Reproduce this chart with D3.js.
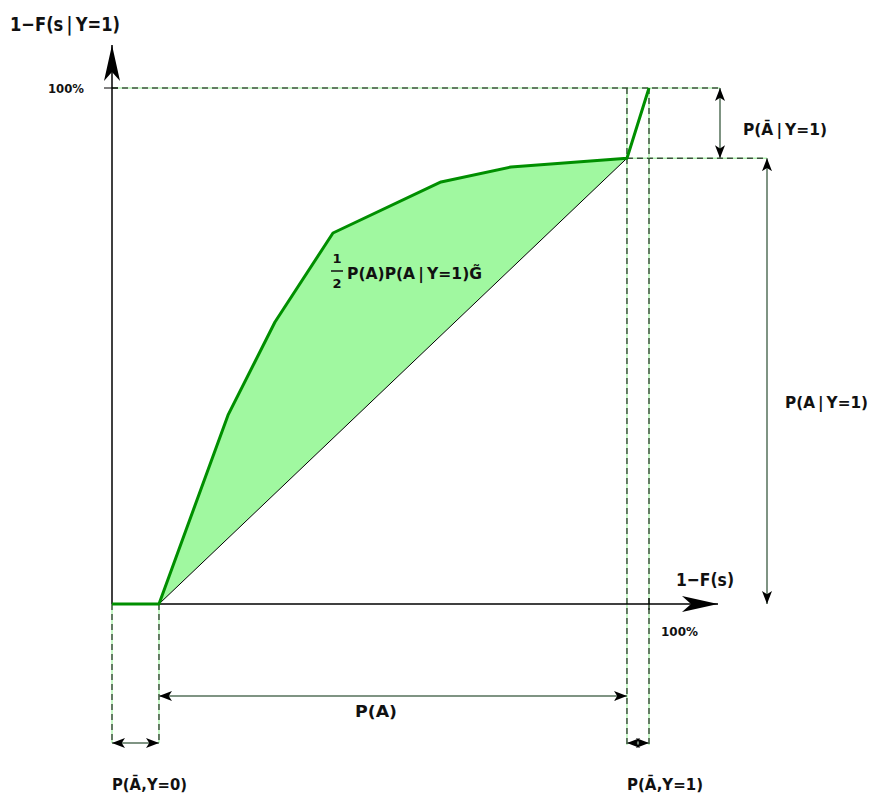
<!DOCTYPE html>
<html>
<head>
<meta charset="utf-8">
<script src="https://cdn.jsdelivr.net/npm/d3@7/dist/d3.min.js"></script>
<style>
  html, body { margin: 0; padding: 0; background: #fff; }
  svg text { font-family: "DejaVu Sans", "Lato", sans-serif; font-weight: 700; fill: #111; }
</style>
</head>
<body>
<svg id="chart" width="872" height="801"></svg>
<script>
// Concentration curve: share of positives vs. share of population above score s
const curveX = [0, 0.0875, 0.216, 0.3035, 0.4115, 0.6127, 0.743, 0.959, 1];
const curveY = [0, 0, 0.366, 0.5465, 0.719, 0.818, 0.847, 0.864, 1];

// Break points of the segment structure
const pNotA_Y0 = 0.0875;   // P(Ā, Y=0)
const pA_end = 0.959;      // P(Ā, Y=0) + P(A)
const pA_Y1 = 0.864;       // P(A | Y=1)

const yTicks = [1];
const xTicks = [1];
const tickLabels = ["100%"];

const svg = d3.select("#chart");
const x = d3.scaleLinear().domain([0, 1]).range([112, 649]);
const y = d3.scaleLinear().domain([0, 1]).range([604, 88]);

const pts = curveX.map((v, i) => [v, curveY[i]]);
const GREEN = "#008f00";
const ANN = "#55705a";

// arrowhead markers
const defs = svg.append("defs");
function marker(id, w, h) {
  defs.append("marker").attr("id", id)
    .attr("viewBox", `0 -${h} ${w} ${2*h}`).attr("refX", w).attr("refY", 0)
    .attr("markerWidth", w).attr("markerHeight", 2*h)
    .attr("markerUnits", "userSpaceOnUse").attr("orient", "auto-start-reverse")
    .append("path").attr("d", `M0,-${h}L${w},0L0,${h}L${w*0.25},0Z`).attr("fill", "#000");
}
marker("ah", 13, 5);
marker("axh", 36, 8);

// text helper with a fixed drawn width
function txt(tx, ty, s, size, width, anchor) {
  const t = svg.append("text").attr("x", tx).attr("y", ty)
    .attr("font-size", size).attr("text-anchor", anchor || "start").text(s);
  if (width) t.attr("textLength", width).attr("lengthAdjust", "spacingAndGlyphs");
  return t;
}

// filled region between curve and chord
const inner = pts.filter(p => p[0] >= pNotA_Y0 && p[0] <= pA_end);
svg.append("path")
  .attr("d", d3.line().x(d => x(d[0])).y(d => y(d[1]))(inner) + "Z")
  .attr("fill", "#a0f8a0").attr("stroke", "none");

// chord
svg.append("line")
  .attr("x1", x(pNotA_Y0)).attr("y1", y(0))
  .attr("x2", x(pA_end)).attr("y2", y(pA_Y1))
  .attr("stroke", "#000").attr("stroke-width", 1);

// dashed guides: light green base with black dashes
function guide(x1, y1, x2, y2) {
  svg.append("line").attr("x1", x1).attr("y1", y1).attr("x2", x2).attr("y2", y2)
    .attr("stroke", "#90f090").attr("stroke-width", 1);
  svg.append("line").attr("x1", x1).attr("y1", y1).attr("x2", x2).attr("y2", y2)
    .attr("stroke", "#000").attr("stroke-width", 1).attr("stroke-dasharray", "6,4");
}
guide(x(0), y(1), 720, y(1));
guide(x(pA_end), y(pA_Y1), 767, y(pA_Y1));
guide(x(pA_end), y(1), x(pA_end), 745);
guide(x(1), y(1), x(1), 745);
guide(x(0), y(0), x(0), 743);
guide(x(pNotA_Y0), y(0), x(pNotA_Y0), 743);

// axes
svg.append("line").attr("x1", x(0)).attr("y1", y(0)).attr("x2", 718).attr("y2", y(0))
  .attr("stroke", "#000").attr("stroke-width", 1.5).attr("marker-end", "url(#axh)");
svg.append("line").attr("x1", x(0)).attr("y1", y(0)).attr("x2", x(0)).attr("y2", 45)
  .attr("stroke", "#000").attr("stroke-width", 1.5).attr("marker-end", "url(#axh)");

// ticks
yTicks.forEach((t, i) => {
  svg.append("line").attr("x1", x(0) - 8).attr("x2", x(0) + 6).attr("y1", y(t)).attr("y2", y(t))
    .attr("stroke", "#000").attr("stroke-width", 1);
  txt(84, y(t) + 5, tickLabels[i], 13, 36, "end");
});
xTicks.forEach((t, i) => {
  svg.append("line").attr("x1", x(t)).attr("x2", x(t)).attr("y1", y(0) - 6).attr("y2", y(0) + 6)
    .attr("stroke", "#000").attr("stroke-width", 1);
  txt(661, y(0) + 32, tickLabels[i], 13, 37);
});

// axis titles
txt(10, 31, "1\u2212F(s\u2009|\u2009Y=1)", 20, 110);
txt(676, 586, "1\u2212F(s)", 18, 58);

// concentration curve
svg.append("path")
  .attr("d", d3.line().x(d => x(d[0])).y(d => y(d[1]))(pts))
  .attr("fill", "none").attr("stroke", GREEN).attr("stroke-width", 3)
  .attr("stroke-linejoin", "round");

// dimension arrows
function dim(x1, y1, x2, y2) {
  svg.append("line").attr("x1", x1).attr("y1", y1).attr("x2", x2).attr("y2", y2)
    .attr("stroke", ANN).attr("stroke-width", 1.5)
    .attr("marker-start", "url(#ah)").attr("marker-end", "url(#ah)");
}
dim(720, y(1), 720, y(pA_Y1));
dim(767, y(pA_Y1), 767, y(0));
dim(x(pNotA_Y0), 696, x(pA_end), 696);
dim(x(0), 743, x(pNotA_Y0), 743);
dim(x(pA_end), 743, x(1), 743);

// labels
txt(743, 135, "P(\u0100\u2009|\u2009Y=1)", 15, 84);
txt(785, 408, "P(A\u2009|\u2009Y=1)", 15, 83);
txt(355, 717, "P(A)", 15, 42);
txt(112, 790, "P(\u0100,Y=0)", 15, 75);
txt(627, 790, "P(\u0100,Y=1)", 15, 76);

// area annotation with fraction
txt(337, 263, "1", 13, null, "middle");
svg.append("line").attr("x1", 331).attr("x2", 343).attr("y1", 271).attr("y2", 271)
  .attr("stroke", "#111").attr("stroke-width", 1.5);
txt(337, 288, "2", 13, null, "middle");
txt(347, 279, "P(A)P(A\u2009|\u2009Y=1)G\u0303", 15, 135);
</script>
</body>
</html>
